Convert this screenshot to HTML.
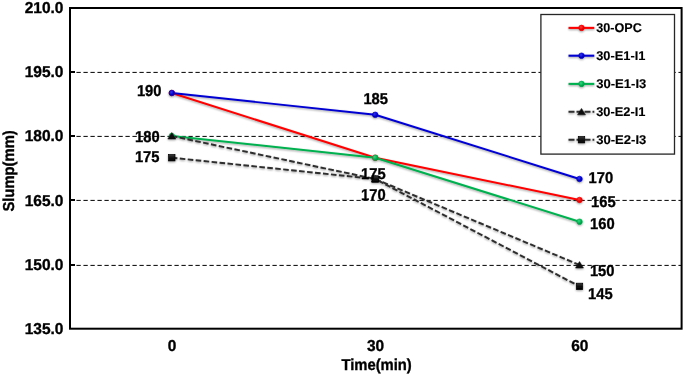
<!DOCTYPE html>
<html><head><meta charset="utf-8"><title>Slump chart</title>
<style>
html,body{margin:0;padding:0;background:#fff;}
body{width:685px;height:376px;overflow:hidden;font-family:"Liberation Sans",sans-serif;}
svg{display:block;}
text{stroke:#000;stroke-width:0.35px;opacity:0.999;text-rendering:geometricPrecision;font-family:"Liberation Sans",sans-serif;font-weight:bold;fill:#000;}
.ax{font-size:15.8px;}
.lg{font-size:12.7px;stroke-width:0.15px;}
</style></head><body>
<svg width="685" height="376" viewBox="0 0 685 376">
<defs>
<filter id="sh" x="-5%" y="-5%" width="110%" height="115%">
<feGaussianBlur in="SourceAlpha" stdDeviation="0.9"/>
<feOffset dx="0.3" dy="1.0" result="b"/>
<feComponentTransfer><feFuncA type="linear" slope="0.38"/></feComponentTransfer>
<feMerge><feMergeNode/><feMergeNode in="SourceGraphic"/></feMerge>
</filter>
<radialGradient id="gr" cx="0.4" cy="0.35" r="0.7"><stop offset="0" stop-color="#ff3b3b"/><stop offset="0.6" stop-color="#f00000"/><stop offset="1" stop-color="#b00000"/></radialGradient>
<radialGradient id="gb" cx="0.4" cy="0.35" r="0.7"><stop offset="0" stop-color="#3434f0"/><stop offset="0.6" stop-color="#0000cc"/><stop offset="1" stop-color="#000088"/></radialGradient>
<radialGradient id="gg" cx="0.4" cy="0.35" r="0.7"><stop offset="0" stop-color="#35d880"/><stop offset="0.6" stop-color="#00b050"/><stop offset="1" stop-color="#007a36"/></radialGradient>
<linearGradient id="gs" x1="0" y1="0" x2="0" y2="1"><stop offset="0" stop-color="#3c3c3c"/><stop offset="0.5" stop-color="#111"/><stop offset="1" stop-color="#000"/></linearGradient>
</defs>
<rect x="0" y="0" width="685" height="376" fill="#fff"/>

<line x1="69.3" y1="72.40" x2="681.6" y2="72.40" stroke="#000" stroke-width="1" stroke-dasharray="4.3 2.7" stroke-dashoffset="-0.15"/>
<line x1="70.0" y1="72.00" x2="75.0" y2="72.00" stroke="#000" stroke-width="2"/>
<line x1="69.3" y1="136.40" x2="681.6" y2="136.40" stroke="#000" stroke-width="1" stroke-dasharray="4.3 2.7" stroke-dashoffset="-0.15"/>
<line x1="70.0" y1="136.00" x2="75.0" y2="136.00" stroke="#000" stroke-width="2"/>
<line x1="69.3" y1="200.40" x2="681.6" y2="200.40" stroke="#000" stroke-width="1" stroke-dasharray="4.3 2.7" stroke-dashoffset="-0.15"/>
<line x1="70.0" y1="200.00" x2="75.0" y2="200.00" stroke="#000" stroke-width="2"/>
<line x1="69.3" y1="265.40" x2="681.6" y2="265.40" stroke="#000" stroke-width="1" stroke-dasharray="4.3 2.7" stroke-dashoffset="-0.15"/>
<line x1="70.0" y1="265.00" x2="75.0" y2="265.00" stroke="#000" stroke-width="2"/>
<rect x="70.0" y="8.0" width="611.6" height="320.7" fill="none" stroke="#000" stroke-width="2"/>
<text class="ax" x="24.7" y="13.1" textLength="38.8" lengthAdjust="spacingAndGlyphs">210.0</text>
<text class="ax" x="24.7" y="77.2" textLength="38.8" lengthAdjust="spacingAndGlyphs">195.0</text>
<text class="ax" x="24.7" y="141.3" textLength="38.8" lengthAdjust="spacingAndGlyphs">180.0</text>
<text class="ax" x="24.7" y="205.5" textLength="38.8" lengthAdjust="spacingAndGlyphs">165.0</text>
<text class="ax" x="24.7" y="269.6" textLength="38.8" lengthAdjust="spacingAndGlyphs">150.0</text>
<text class="ax" x="24.7" y="333.8" textLength="38.8" lengthAdjust="spacingAndGlyphs">135.0</text>
<text class="ax" x="167.8" y="350.5" textLength="8.6" lengthAdjust="spacingAndGlyphs">0</text>
<text class="ax" x="366.9" y="350.5" textLength="17.2" lengthAdjust="spacingAndGlyphs">30</text>
<text class="ax" x="571.2" y="350.5" textLength="17.2" lengthAdjust="spacingAndGlyphs">60</text>
<text class="ax" x="341.4" y="369.8" textLength="70.4" lengthAdjust="spacingAndGlyphs">Time(min)</text>
<text class="ax" transform="translate(13.6,211.6) rotate(-90)" textLength="81.3" lengthAdjust="spacingAndGlyphs">Slump(mm)</text>
<g filter="url(#sh)">
<polyline points="171.8,93.0 375.2,157.7 579.5,200.0" fill="none" stroke="#FF0000" stroke-width="1.95" stroke-linejoin="round"/>
<polyline points="171.8,93.0 375.2,114.8 579.5,179.0" fill="none" stroke="#0000D0" stroke-width="1.95" stroke-linejoin="round"/>
<polyline points="171.8,136.0 375.2,157.7 579.5,221.7" fill="none" stroke="#00B050" stroke-width="1.95" stroke-linejoin="round"/>
<polyline points="171.8,136.0 375.2,179.0 579.5,265.0" fill="none" stroke="#2E2E2E" stroke-width="1.95" stroke-linejoin="round" stroke-dasharray="5.6 2.4"/>
<polyline points="171.8,157.7 375.2,179.0 579.5,286.4" fill="none" stroke="#2E2E2E" stroke-width="1.95" stroke-linejoin="round" stroke-dasharray="5.6 2.4"/>
<circle cx="171.8" cy="93.0" r="2.8" fill="url(#gr)" stroke="#FF0000" stroke-width="0.6"/>
<circle cx="375.2" cy="157.7" r="2.8" fill="url(#gr)" stroke="#FF0000" stroke-width="0.6"/>
<circle cx="579.5" cy="200.0" r="2.8" fill="url(#gr)" stroke="#FF0000" stroke-width="0.6"/>
<circle cx="171.8" cy="93.0" r="2.8" fill="url(#gb)" stroke="#0000D0" stroke-width="0.6"/>
<circle cx="375.2" cy="114.8" r="2.8" fill="url(#gb)" stroke="#0000D0" stroke-width="0.6"/>
<circle cx="579.5" cy="179.0" r="2.8" fill="url(#gb)" stroke="#0000D0" stroke-width="0.6"/>
<circle cx="171.8" cy="136.0" r="2.8" fill="url(#gg)" stroke="#00B050" stroke-width="0.6"/>
<circle cx="375.2" cy="157.7" r="2.8" fill="url(#gg)" stroke="#00B050" stroke-width="0.6"/>
<circle cx="579.5" cy="221.7" r="2.8" fill="url(#gg)" stroke="#00B050" stroke-width="0.6"/>
<path d="M167.8 139.0 L175.8 139.0 L171.8 132.6 Z" fill="#111" stroke="#111" stroke-width="0.5"/>
<path d="M371.2 182.0 L379.2 182.0 L375.2 175.6 Z" fill="#111" stroke="#111" stroke-width="0.5"/>
<path d="M575.5 268.0 L583.5 268.0 L579.5 261.6 Z" fill="#111" stroke="#111" stroke-width="0.5"/>
<rect x="168.6" y="154.5" width="6.4" height="6.4" fill="url(#gs)" stroke="#000" stroke-width="0.7"/>
<rect x="372.0" y="175.8" width="6.4" height="6.4" fill="url(#gs)" stroke="#000" stroke-width="0.7"/>
<rect x="576.3" y="283.2" width="6.4" height="6.4" fill="url(#gs)" stroke="#000" stroke-width="0.7"/>
</g>
<text class="ax" x="136.9" y="95.5" textLength="24.6" lengthAdjust="spacingAndGlyphs">190</text>
<text class="ax" x="135.1" y="141.8" textLength="24.6" lengthAdjust="spacingAndGlyphs">180</text>
<text class="ax" x="134.9" y="161.6" textLength="24.6" lengthAdjust="spacingAndGlyphs">175</text>
<text class="ax" x="363.4" y="103.8" textLength="24.6" lengthAdjust="spacingAndGlyphs">185</text>
<text class="ax" x="361.0" y="178.6" textLength="24.6" lengthAdjust="spacingAndGlyphs">175</text>
<text class="ax" x="361.0" y="200.0" textLength="24.6" lengthAdjust="spacingAndGlyphs">170</text>
<text class="ax" x="588.5" y="183.0" textLength="24.6" lengthAdjust="spacingAndGlyphs">170</text>
<text class="ax" x="591.0" y="207.3" textLength="24.6" lengthAdjust="spacingAndGlyphs">165</text>
<text class="ax" x="590.0" y="228.5" textLength="24.6" lengthAdjust="spacingAndGlyphs">160</text>
<text class="ax" x="589.9" y="276.0" textLength="24.6" lengthAdjust="spacingAndGlyphs">150</text>
<text class="ax" x="588.1" y="298.8" textLength="24.6" lengthAdjust="spacingAndGlyphs">145</text>
<rect x="540.9" y="14.5" width="133.6" height="139.6" fill="#fff" stroke="#262626" stroke-width="1.3"/>
<g filter="url(#sh)">
<line x1="568.5" y1="27.9" x2="594.3" y2="27.9" stroke="#FF0000" stroke-width="2.1"/>
<circle cx="581.5" cy="27.9" r="2.8" fill="url(#gr)" stroke="#FF0000" stroke-width="0.6"/>
<line x1="568.5" y1="55.7" x2="594.3" y2="55.7" stroke="#0000D0" stroke-width="2.1"/>
<circle cx="581.5" cy="55.7" r="2.8" fill="url(#gb)" stroke="#0000D0" stroke-width="0.6"/>
<line x1="568.5" y1="83.9" x2="594.3" y2="83.9" stroke="#00B050" stroke-width="2.1"/>
<circle cx="581.5" cy="83.9" r="2.8" fill="url(#gg)" stroke="#00B050" stroke-width="0.6"/>
<line x1="568.5" y1="111.8" x2="594.3" y2="111.8" stroke="#2E2E2E" stroke-width="2.1" stroke-dasharray="6 2"/>
<path d="M577.5 114.8 L585.5 114.8 L581.5 108.4 Z" fill="#111" stroke="#111" stroke-width="0.5"/>
<line x1="568.5" y1="139.7" x2="594.3" y2="139.7" stroke="#2E2E2E" stroke-width="2.1" stroke-dasharray="6 2"/>
<rect x="578.3" y="136.5" width="6.4" height="6.4" fill="url(#gs)" stroke="#000" stroke-width="0.7"/>
</g>
<text class="lg" x="596.2" y="31.8" textLength="45.6" lengthAdjust="spacingAndGlyphs">30-OPC</text>
<text class="lg" x="596.2" y="60.0" textLength="49.2" lengthAdjust="spacingAndGlyphs">30-E1-I1</text>
<text class="lg" x="596.2" y="88.2" textLength="50.2" lengthAdjust="spacingAndGlyphs">30-E1-I3</text>
<text class="lg" x="596.2" y="116.0" textLength="49.3" lengthAdjust="spacingAndGlyphs">30-E2-I1</text>
<text class="lg" x="596.2" y="143.9" textLength="50.2" lengthAdjust="spacingAndGlyphs">30-E2-I3</text>
</svg></body></html>
